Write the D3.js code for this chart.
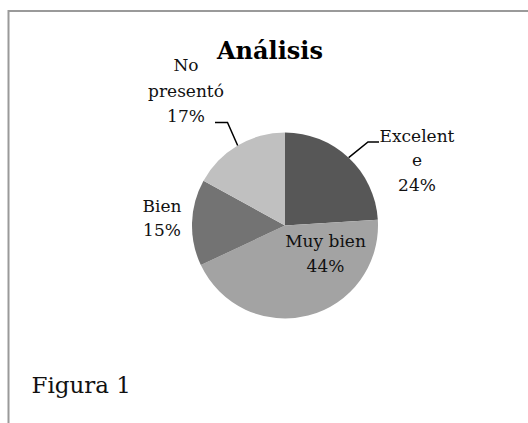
<!DOCTYPE html>
<html>
<head>
<meta charset="utf-8">
<script src="https://cdn.jsdelivr.net/npm/d3@7"></script>
<style>
  html, body { margin: 0; padding: 0; background: #fff; }
  svg { display: block; }
</style>
</head>
<body>
<script>
// ---- data ----
const categories = ["Excelente", "Muy bien", "Bien", "No presentó"];
const values = [24, 44, 15, 17];
const colors = ["#575757", "#a3a3a3", "#737373", "#c0c0c0"];
const labelLines = [["Excelent", "e", "24%"], ["Muy bien", "44%"], ["Bien", "15%"], ["No", "presentó", "17%"]];
const title = "Análisis";
const caption = "Figura 1";

// ---- layout ----
const W = 528, H = 423;
const cx = 285, cy = 225.5, R = 93;
const labelPos = [
  { x: 417, y: 141.5, dy: 24.5 },
  { x: 325.5, y: 246.5, dy: 25 },
  { x: 162, y: 211.5, dy: 24.5 },
  { x: 186, y: 71, dy: 25.5 }
];
const leaders = {
  0: [[368, 142], [379, 142]],
  3: [[227.5, 122.5], [215, 122.5]]
};

const svg = d3.select("body").append("svg").attr("width", W).attr("height", H);

// frame
svg.append("path")
  .attr("d", `M8.5,${H} L8.5,11 L${W},11`)
  .attr("fill", "none").attr("stroke", "#9a9a9a").attr("stroke-width", 2);

const pie = d3.pie().sort(null).value(d => d)(values);
const arc = d3.arc().innerRadius(0).outerRadius(R);
const edgeArc = d3.arc().innerRadius(R).outerRadius(R);

const g = svg.append("g").attr("transform", `translate(${cx},${cy})`);
g.selectAll("path.slice").data(pie).enter().append("path")
  .attr("class", "slice")
  .attr("d", arc)
  .attr("fill", (d, i) => colors[i]);

// leader lines
Object.keys(leaders).forEach(k => {
  const i = +k;
  const c = edgeArc.centroid(pie[i]);
  const pts = [[cx + c[0], cy + c[1]], ...leaders[k]];
  svg.append("path")
    .attr("d", d3.line()(pts))
    .attr("fill", "none").attr("stroke", "#000").attr("stroke-width", 1.5);
});

// labels
labelLines.forEach((lines, i) => {
  const p = labelPos[i];
  const t = svg.append("text")
    .attr("text-anchor", "middle")
    .attr("font-family", "DejaVu Serif")
    .attr("font-size", 17)
    .attr("fill", "#111");
  lines.forEach((ln, j) => {
    t.append("tspan").attr("x", p.x).attr("y", p.y + j * p.dy).text(ln);
  });
});

// title
svg.append("text")
  .attr("x", 270).attr("y", 59)
  .attr("text-anchor", "middle")
  .attr("font-family", "DejaVu Serif")
  .attr("font-weight", "bold")
  .attr("font-size", 24)
  .attr("fill", "#000")
  .text(title);

// caption
svg.append("text")
  .attr("x", 31.5).attr("y", 393)
  .attr("font-family", "DejaVu Serif")
  .attr("font-size", 23)
  .attr("fill", "#111")
  .text(caption);
</script>
</body>
</html>
